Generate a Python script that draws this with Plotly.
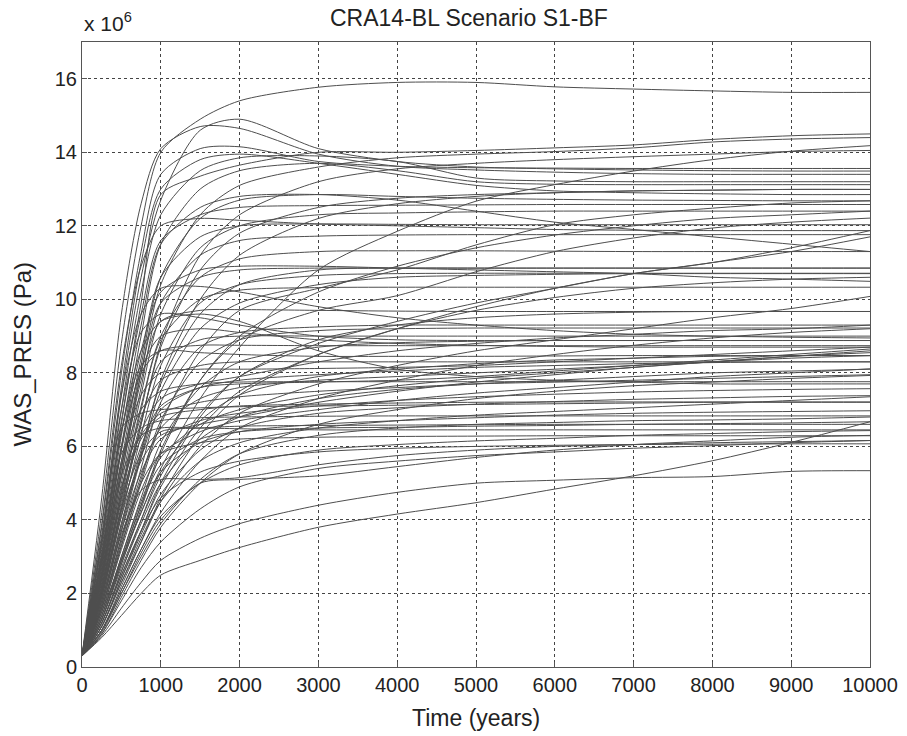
import plotly.graph_objects as go

time_years = [0, 250, 500, 750, 1000, 1500, 2000, 3000, 4000, 5000, 6000, 7000, 8000, 9000, 10000]

# WAS_PRES realizations, in units of 1e6 Pa
run_01 = [0.3, 4.2, 8.8, 12.0, 14.0, 14.9, 15.4, 15.77, 15.9, 15.9, 15.78, 15.72, 15.67, 15.63, 15.63]
run_02 = [0.3, 4.6, 9.6, 12.6, 14.1, 14.7, 14.65, 13.95, 13.62, 13.52, 13.46, 13.42, 13.4, 13.4, 13.4]
run_03 = [0.3, 3.4, 7.4, 10.6, 12.7, 14.6, 14.9, 14.1, 13.75, 13.6, 13.55, 13.52, 13.5, 13.49, 13.49]
run_04 = [0.3, 3.8, 8.0, 11.3, 13.4, 14.1, 14.15, 13.75, 13.62, 13.58, 13.57, 13.56, 13.56, 13.56, 13.56]
run_05 = [0.3, 3.0, 6.6, 9.9, 12.85, 13.35, 13.65, 14.0, 14.0, 14.05, 14.12, 14.2, 14.35, 14.45, 14.5]
run_06 = [0.3, 2.4, 5.2, 8.0, 10.4, 12.3, 13.1, 13.6, 13.85, 13.95, 14.02, 14.12, 14.28, 14.36, 14.4]
run_07 = [0.3, 1.5, 2.9, 4.2, 5.4, 7.3, 8.7, 10.8, 11.85, 12.67, 13.12, 13.49, 13.8, 14.03, 14.18]
run_08 = [0.3, 2.0, 4.3, 6.6, 8.8, 11.2, 12.3, 13.2, 13.55, 13.7, 13.8, 13.88, 13.95, 14.02, 14.05]
run_09 = [0.3, 3.2, 7.0, 10.2, 12.3, 13.5, 13.85, 13.9, 13.75, 13.3, 13.22, 13.2, 13.2, 13.2, 13.2]
run_10 = [0.3, 2.8, 6.0, 9.0, 11.5, 13.0, 13.5, 13.7, 13.5, 13.2, 13.13, 13.12, 13.12, 13.12, 13.12]
run_11 = [0.3, 1.8, 3.8, 5.8, 7.8, 10.0, 11.2, 12.2, 12.6, 12.8, 12.9, 12.95, 12.97, 12.99, 12.99]
run_12 = [0.3, 3.5, 7.6, 11.0, 13.0, 13.8, 13.95, 13.7, 13.4, 13.1, 12.95, 12.9, 12.87, 12.85, 12.85]
run_13 = [0.3, 1.6, 3.3, 5.0, 6.6, 8.6, 9.7, 10.3, 10.8, 11.48, 12.03, 12.3, 12.48, 12.62, 12.68]
run_14 = [0.3, 3.1, 6.7, 9.6, 11.6, 12.3, 12.5, 12.55, 12.56, 12.57, 12.58, 12.58, 12.58, 12.58, 12.58]
run_15 = [0.3, 2.2, 4.8, 7.4, 9.6, 11.4, 12.0, 12.3, 12.35, 12.38, 12.4, 12.4, 12.4, 12.4, 12.4]
run_16 = [0.3, 1.4, 2.9, 4.4, 5.9, 7.8, 8.9, 9.7, 10.1, 10.75, 11.3, 11.67, 11.94, 12.1, 12.21]
run_17 = [0.3, 2.6, 5.6, 8.4, 10.6, 11.7, 12.0, 12.05, 12.04, 12.03, 12.03, 12.03, 12.03, 12.03, 12.03]
run_18 = [0.3, 1.3, 2.7, 4.0, 5.2, 6.9, 7.9, 8.8, 9.4, 9.9, 10.3, 10.7, 11.0, 11.4, 11.87]
run_19 = [0.3, 2.3, 5.0, 7.6, 9.9, 11.2, 11.6, 11.72, 11.75, 11.76, 11.76, 11.76, 11.76, 11.76, 11.76]
run_20 = [0.3, 1.2, 2.5, 3.7, 4.9, 6.5, 7.5, 8.5, 9.2, 9.8, 10.3, 10.7, 11.0, 11.3, 11.7]
run_21 = [0.3, 2.9, 6.3, 9.3, 11.5, 12.5, 12.8, 12.85, 12.7, 12.4, 12.1, 11.9, 11.7, 11.5, 11.3]
run_22 = [0.3, 2.5, 5.4, 8.0, 9.9, 10.6, 10.8, 10.85, 10.85, 10.85, 10.85, 10.85, 10.85, 10.85, 10.85]
run_23 = [0.3, 1.9, 4.1, 6.3, 8.2, 9.9, 10.4, 10.65, 10.7, 10.71, 10.71, 10.71, 10.71, 10.71, 10.71]
run_24 = [0.3, 2.7, 5.9, 8.6, 10.2, 10.8, 10.9, 10.9, 10.85, 10.8, 10.75, 10.7, 10.6, 10.55, 10.49]
run_25 = [0.3, 2.1, 4.6, 7.0, 8.9, 10.0, 10.25, 10.32, 10.33, 10.33, 10.33, 10.33, 10.33, 10.33, 10.33]
run_26 = [0.3, 1.1, 2.3, 3.4, 4.5, 6.0, 6.9, 7.7, 8.2, 8.6, 8.9, 9.2, 9.5, 9.75, 10.08]
run_27 = [0.3, 2.4, 5.2, 7.8, 9.4, 9.7, 9.72, 9.7, 9.68, 9.67, 9.67, 9.67, 9.67, 9.67, 9.67]
run_28 = [0.3, 3.0, 6.4, 8.6, 9.4, 9.6, 9.4, 8.6, 8.1, 7.9, 7.8, 7.75, 7.7, 7.7, 7.7]
run_29 = [0.3, 1.6, 3.5, 5.4, 7.2, 8.7, 9.1, 9.25, 9.3, 9.3, 9.3, 9.3, 9.3, 9.3, 9.3]
run_30 = [0.3, 1.0, 2.1, 3.2, 4.2, 5.6, 6.5, 7.3, 7.8, 8.2, 8.5, 8.75, 8.95, 9.1, 9.2]
run_31 = [0.3, 2.0, 4.4, 6.7, 8.3, 8.9, 9.0, 9.0, 9.0, 9.0, 9.0, 9.0, 9.0, 9.0, 9.0]
run_32 = [0.3, 1.4, 3.0, 4.6, 6.1, 7.6, 8.3, 8.7, 8.82, 8.86, 8.88, 8.88, 8.88, 8.88, 8.88]
run_33 = [0.3, 2.8, 6.0, 8.0, 8.6, 8.75, 8.75, 8.74, 8.74, 8.74, 8.74, 8.74, 8.74, 8.74, 8.74]
run_34 = [0.3, 1.9, 4.1, 5.6, 6.3, 6.6, 6.8, 7.2, 7.5, 7.75, 7.95, 8.15, 8.3, 8.45, 8.6]
run_35 = [0.3, 1.2, 2.6, 4.0, 5.3, 6.7, 7.4, 7.9, 8.1, 8.25, 8.35, 8.4, 8.45, 8.47, 8.47]
run_36 = [0.3, 2.2, 4.8, 6.8, 7.8, 8.2, 8.3, 8.3, 8.3, 8.3, 8.3, 8.3, 8.3, 8.3, 8.3]
run_37 = [0.3, 1.5, 3.2, 4.8, 5.8, 6.4, 6.7, 7.0, 7.25, 7.45, 7.6, 7.75, 7.9, 8.0, 8.11]
run_38 = [0.3, 0.9, 1.9, 2.9, 3.8, 5.0, 5.8, 6.6, 7.0, 7.3, 7.5, 7.65, 7.75, 7.85, 7.93]
run_39 = [0.3, 2.5, 5.5, 7.0, 7.5, 7.7, 7.75, 7.76, 7.76, 7.76, 7.76, 7.76, 7.76, 7.76, 7.76]
run_40 = [0.3, 1.7, 3.7, 5.3, 6.2, 6.7, 6.9, 7.1, 7.25, 7.35, 7.42, 7.48, 7.52, 7.55, 7.57]
run_41 = [0.3, 1.1, 2.4, 3.6, 4.7, 5.9, 6.5, 6.9, 7.05, 7.15, 7.22, 7.28, 7.32, 7.36, 7.38]
run_42 = [0.3, 2.1, 4.6, 6.2, 6.8, 7.0, 7.1, 7.15, 7.18, 7.2, 7.21, 7.21, 7.21, 7.21, 7.21]
run_43 = [0.3, 1.3, 2.8, 4.2, 5.3, 6.1, 6.4, 6.6, 6.7, 6.78, 6.85, 6.9, 6.93, 6.95, 6.97]
run_44 = [0.3, 2.9, 5.8, 6.5, 6.7, 6.78, 6.8, 6.82, 6.83, 6.83, 6.83, 6.83, 6.83, 6.83, 6.83]
run_45 = [0.3, 0.8, 1.4, 2.0, 2.5, 2.9, 3.25, 3.8, 4.16, 4.47, 4.84, 5.2, 5.61, 6.11, 6.67]
run_46 = [0.3, 2.0, 4.3, 5.8, 6.4, 6.5, 6.55, 6.57, 6.58, 6.59, 6.6, 6.6, 6.6, 6.6, 6.6]
run_47 = [0.3, 1.0, 2.1, 3.2, 4.1, 5.0, 5.5, 5.9, 6.05, 6.15, 6.22, 6.3, 6.35, 6.4, 6.43]
run_48 = [0.3, 1.6, 3.5, 5.0, 5.8, 6.1, 6.2, 6.25, 6.27, 6.28, 6.29, 6.29, 6.29, 6.29, 6.29]
run_49 = [0.3, 0.9, 1.8, 2.7, 3.4, 4.3, 4.9, 5.4, 5.6, 5.75, 5.85, 5.95, 6.02, 6.1, 6.16]
run_50 = [0.3, 1.2, 2.5, 3.7, 4.6, 5.3, 5.6, 5.85, 5.95, 6.0, 6.03, 6.05, 6.06, 6.07, 6.07]
run_51 = [0.3, 0.85, 1.6, 2.3, 2.9, 3.5, 3.9, 4.4, 4.75, 5.0, 5.08, 5.15, 5.18, 5.32, 5.34]
run_52 = [0.3, 1.8, 3.9, 5.7, 7.0, 7.6, 7.8, 7.95, 8.05, 8.15, 8.2, 8.25, 8.28, 8.3, 8.3]
run_53 = [0.3, 2.6, 5.6, 7.4, 8.0, 8.1, 8.1, 8.12, 8.15, 8.2, 8.3, 8.4, 8.5, 8.6, 8.7]
run_54 = [0.3, 1.4, 3.0, 4.5, 5.7, 6.6, 7.0, 7.4, 7.65, 7.85, 8.0, 8.15, 8.3, 8.45, 8.55]
run_55 = [0.3, 3.3, 6.5, 6.9, 7.0, 7.05, 7.08, 7.1, 7.12, 7.14, 7.16, 7.18, 7.2, 7.2, 7.2]
run_56 = [0.3, 2.3, 4.9, 6.3, 6.9, 7.2, 7.35, 7.5, 7.6, 7.7, 7.75, 7.8, 7.85, 7.9, 7.95]
run_57 = [0.3, 1.1, 2.3, 3.5, 4.5, 5.6, 6.1, 6.5, 6.7, 6.85, 6.95, 7.05, 7.15, 7.25, 7.35]
run_58 = [0.3, 1.9, 4.2, 6.0, 7.1, 7.6, 7.7, 7.75, 7.8, 7.9, 8.05, 8.2, 8.35, 8.5, 8.65]
run_59 = [0.3, 2.7, 5.9, 8.1, 9.0, 9.2, 9.1, 8.9, 8.8, 8.75, 8.72, 8.7, 8.7, 8.7, 8.7]
run_60 = [0.3, 1.5, 3.3, 5.1, 6.7, 8.3, 8.9, 9.15, 9.2, 9.22, 9.22, 9.22, 9.22, 9.22, 9.22]
run_61 = [0.3, 3.6, 7.4, 9.6, 10.3, 10.35, 10.2, 9.8, 9.5, 9.3, 9.15, 9.05, 9.0, 8.97, 8.95]
run_62 = [0.3, 1.7, 3.7, 5.7, 7.5, 9.2, 9.9, 10.4, 10.6, 10.65, 10.68, 10.7, 10.7, 10.7, 10.7]
run_63 = [0.3, 2.2, 4.7, 7.1, 9.0, 10.6, 11.1, 11.3, 11.32, 11.32, 11.31, 11.3, 11.3, 11.3, 11.3]
run_64 = [0.3, 3.9, 8.2, 10.9, 12.0, 12.2, 12.15, 12.05, 12.0, 11.95, 11.9, 11.88, 11.87, 11.87, 11.87]
run_65 = [0.3, 1.3, 2.8, 4.3, 5.8, 7.8, 9.0, 10.2, 10.9, 11.4, 11.75, 12.0, 12.2, 12.3, 12.4]
run_66 = [0.3, 2.0, 4.3, 6.6, 8.7, 10.8, 11.8, 12.5, 12.75, 12.85, 12.9, 12.95, 12.97, 12.99, 12.99]
run_67 = [0.3, 2.5, 5.4, 8.2, 10.6, 12.2, 12.7, 12.85, 12.8, 12.75, 12.72, 12.7, 12.69, 12.68, 12.68]
run_68 = [0.3, 1.0, 2.2, 3.4, 4.6, 6.3, 7.4, 8.5, 9.2, 9.7, 10.05, 10.3, 10.45, 10.55, 10.6]
run_69 = [0.3, 1.1, 2.4, 3.7, 5.0, 6.8, 7.9, 8.9, 9.3, 9.5, 9.6, 9.65, 9.67, 9.67, 9.67]
run_70 = [0.3, 3.0, 6.4, 8.2, 8.6, 8.55, 8.5, 8.45, 8.45, 8.45, 8.46, 8.47, 8.47, 8.47, 8.47]
run_71 = [0.3, 1.6, 3.4, 5.2, 6.5, 7.3, 7.6, 7.8, 7.9, 8.0, 8.1, 8.2, 8.3, 8.4, 8.47]
run_72 = [0.3, 0.95, 2.0, 3.0, 3.9, 5.1, 5.8, 6.3, 6.5, 6.6, 6.65, 6.7, 6.72, 6.75, 6.8]
run_73 = [0.3, 1.3, 2.9, 4.4, 5.5, 6.2, 6.4, 6.5, 6.52, 6.55, 6.57, 6.6, 6.62, 6.64, 6.67]
run_74 = [0.3, 2.4, 5.2, 6.3, 6.5, 6.5, 6.48, 6.45, 6.45, 6.45, 6.45, 6.45, 6.45, 6.45, 6.45]
run_75 = [0.3, 1.0, 2.0, 3.1, 4.0, 5.0, 5.1, 5.2, 5.45, 5.7, 5.9, 6.05, 6.15, 6.25, 6.3]
run_76 = [0.3, 1.7, 3.6, 4.8, 5.1, 5.1, 5.15, 5.5, 5.75, 5.9, 6.0, 6.05, 6.1, 6.13, 6.16]
run_77 = [0.3, 3.4, 7.0, 9.1, 9.6, 9.5, 9.3, 9.0, 8.9, 8.88, 8.88, 8.88, 8.88, 8.88, 8.88]
run_78 = [0.3, 2.1, 4.5, 6.4, 7.3, 7.7, 7.9, 8.3, 8.6, 8.8, 8.95, 9.05, 9.15, 9.2, 9.3]
run_79 = [0.3, 1.2, 2.6, 3.9, 5.0, 6.2, 6.8, 7.3, 7.55, 7.7, 7.8, 7.9, 8.0, 8.05, 8.1]
run_80 = [0.3, 1.8, 3.9, 5.9, 7.7, 9.6, 10.4, 10.8, 10.85, 10.85, 10.85, 10.85, 10.85, 10.85, 10.85]

runs = [run_01, run_02, run_03, run_04, run_05, run_06, run_07, run_08, run_09, run_10,
        run_11, run_12, run_13, run_14, run_15, run_16, run_17, run_18, run_19, run_20,
        run_21, run_22, run_23, run_24, run_25, run_26, run_27, run_28, run_29, run_30,
        run_31, run_32, run_33, run_34, run_35, run_36, run_37, run_38, run_39, run_40,
        run_41, run_42, run_43, run_44, run_45, run_46, run_47, run_48, run_49, run_50,
        run_51, run_52, run_53, run_54, run_55, run_56, run_57, run_58, run_59, run_60,
        run_61, run_62, run_63, run_64, run_65, run_66, run_67, run_68, run_69, run_70,
        run_71, run_72, run_73, run_74, run_75, run_76, run_77, run_78, run_79, run_80]

x_ticks = [0, 1000, 2000, 3000, 4000, 5000, 6000, 7000, 8000, 9000, 10000]
y_ticks = [0, 2, 4, 6, 8, 10, 12, 14, 16]

title_text = "CRA14-BL Scenario S1-BF"
x_label = "Time (years)"
y_label = "WAS_PRES (Pa)"
scale_label = "x 10<sup>6</sup>"

fig = go.Figure()
for r in runs:
    fig.add_trace(go.Scatter(x=time_years, y=r, mode="lines",
                             line=dict(color="rgb(78,78,78)", width=1, shape="spline", smoothing=0.8),
                             showlegend=False, hoverinfo="skip"))

font_family = "Liberation Sans, Arial, sans-serif"
text_color = "#222222"
axis_common = dict(
    showline=True, linecolor="#555555", linewidth=1, mirror=True,
    ticks="inside", ticklen=5, tickcolor="#555555",
    showgrid=True, gridcolor="#444444", gridwidth=1, griddash="3px,3px",
    zeroline=False, automargin=False,
    tickfont=dict(family=font_family, size=20, color=text_color),
)

fig.update_layout(
    width=907, height=736,
    margin=dict(l=82, r=37, t=42, b=69),
    paper_bgcolor="white", plot_bgcolor="white",
    xaxis=dict(range=[0, 10000], tickvals=x_ticks, ticktext=[str(v) for v in x_ticks],
               **axis_common),
    yaxis=dict(range=[0, 17], tickvals=y_ticks, ticktext=[str(v) for v in y_ticks],
               **axis_common),
    annotations=[
        dict(text=scale_label, xref="paper", yref="paper", x=0, y=1.0,
             xanchor="left", yanchor="bottom", showarrow=False, yshift=5,
             font=dict(family=font_family, size=21, color=text_color)),
        dict(text=title_text, xref="paper", yref="paper", x=0.5, y=1.0,
             xanchor="center", yanchor="middle", showarrow=False, xshift=-7, yshift=24,
             font=dict(family=font_family, size=23, color=text_color)),
        dict(text=x_label, xref="paper", yref="paper", x=0.5, y=0,
             xanchor="center", yanchor="middle", showarrow=False, yshift=-51,
             font=dict(family=font_family, size=23, color=text_color)),
        dict(text=y_label, xref="paper", yref="paper", x=0, y=0.5, textangle=-90,
             xanchor="center", yanchor="middle", showarrow=False, xshift=-60,
             font=dict(family=font_family, size=24, color=text_color)),
    ],
    hovermode=False,
)

# remove the browser's default 8px page margin so the figure fills the window exactly
fig.write_html("out.html", config={"displayModeBar": False},
               post_script="document.body.style.margin='0';")
